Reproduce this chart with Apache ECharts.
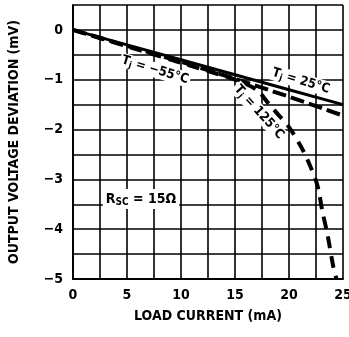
<!DOCTYPE html>
<html>
<head>
<meta charset="utf-8">
<script src="https://cdn.jsdelivr.net/npm/echarts@6/dist/echarts.min.js"></script>
<style>html,body{margin:0;padding:0;background:#fff;}#c{width:349px;height:337px;}</style>
</head>
<body>
<div id="c"></div>
<script>
// Data
const x25 = [0, 5, 10, 15, 20, 25];
const y25 = [0, -0.3, -0.6, -0.9, -1.2, -1.5];
const xm55 = [0, 5, 10, 15, 20, 25];
const ym55 = [0, -0.32, -0.64, -0.98, -1.34, -1.72];
const x125 = [0, 5, 10, 15, 17, 18, 19, 20, 21, 21.7, 22.6, 23.1, 23.6, 24.1, 24.4];
const y125 = [0, -0.33, -0.66, -1.0, -1.2, -1.45, -1.7, -1.95, -2.3, -2.6, -3.1, -3.65, -4.15, -4.75, -5];
const xTickLabels = [0, 5, 10, 15, 20, 25];
const yTickLabels = [0, -1, -2, -3, -4, -5];

const FONT = "'Liberation Sans Narrow', 'DejaVu Sans Condensed', sans-serif";
const zip = (xs, ys) => xs.map((x, i) => [x, ys[i]]);

const chart = echarts.init(document.getElementById('c'), null, {renderer: 'canvas'});

function tjText(rest) {
  return {
    text: '{t|T}{s|j}{t|' + rest + '}',
    rich: {
      t: {fontFamily: FONT, fontWeight: 'bold', fontSize: 13, fill: '#000'},
      s: {fontFamily: FONT, fontWeight: 'bold', fontSize: 9, fill: '#000', verticalAlign: 'bottom', padding: [6, 0, 0, 0]}
    },
    align: 'center', verticalAlign: 'middle',
    backgroundColor: '#fff', padding: [0, 2, 0, 2]
  };
}

chart.setOption({
  animation: false,
  grid: {left: 73, right: 6, top: 5, bottom: 58, outerBoundsMode: 'none', containLabel: false},
  xAxis: {
    type: 'value', min: 0, max: 25, interval: 2.5,
    name: 'LOAD CURRENT (mA)', nameLocation: 'middle', nameGap: 30,
    nameTextStyle: {fontFamily: FONT, fontWeight: 'bold', fontSize: 14, color: '#000'},
    axisLine: {show: true, onZero: false, lineStyle: {color: '#000', width: 2}},
    axisTick: {show: false},
    axisLabel: {
      fontFamily: FONT, fontWeight: 'bold', fontSize: 14, color: '#000', margin: 9,
      formatter: v => xTickLabels.includes(v) ? String(v) : ''
    },
    splitLine: {show: true, lineStyle: {color: '#000', width: 1.6}}
  },
  yAxis: {
    type: 'value', min: -5, max: 0.5, interval: 0.5,
    name: 'OUTPUT VOLTAGE DEVIATION (mV)', nameLocation: 'middle', nameGap: 52,
    nameTextStyle: {fontFamily: FONT, fontWeight: 'bold', fontSize: 14, color: '#000'},
    axisLine: {show: true, onZero: false, lineStyle: {color: '#000', width: 2}},
    axisTick: {show: false},
    axisLabel: {
      fontFamily: FONT, fontWeight: 'bold', fontSize: 14, color: '#000', margin: 10,
      formatter: v => yTickLabels.includes(v) ? (v < 0 ? '\u2212' + (-v) : '0') : ''
    },
    splitLine: {show: true, lineStyle: {color: '#000', width: 1.6}}
  },
  series: [
    {type: 'line', data: zip(x25, y25), symbol: 'none', lineStyle: {color: '#000', width: 3}, z: 5},
    {type: 'line', data: zip(xm55, ym55), symbol: 'none', lineStyle: {color: '#000', width: 4, type: [14, 5]}, z: 4},
    {type: 'line', data: zip(x125, y125), symbol: 'none', smooth: 0.3, lineStyle: {color: '#000', width: 4, type: [12, 8]}, z: 4}
  ],
  graphic: [
    {type: 'text', x: 155, y: 70, rotation: -17 * Math.PI / 180, style: tjText(' = \u221255\u00B0C'), z: 20},
    {type: 'text', x: 301, y: 81, rotation: -17 * Math.PI / 180, style: tjText(' = 25\u00B0C'), z: 20},
    {type: 'text', x: 259, y: 112, rotation: -48 * Math.PI / 180, style: tjText(' = 125\u00B0C'), z: 20},
    {type: 'text', x: 141, y: 199, z: 20, style: {
      text: '{t|R}{s|SC}{t| = 15\u03A9}',
      rich: {
        t: {fontFamily: FONT, fontWeight: 'bold', fontSize: 14, fill: '#000'},
        s: {fontFamily: FONT, fontWeight: 'bold', fontSize: 10, fill: '#000', verticalAlign: 'bottom', padding: [6, 0, 0, 0]}
      },
      align: 'center', verticalAlign: 'middle', backgroundColor: '#fff', padding: [2, 3, 2, 3]
    }}
  ]
});
</script>
</body>
</html>
